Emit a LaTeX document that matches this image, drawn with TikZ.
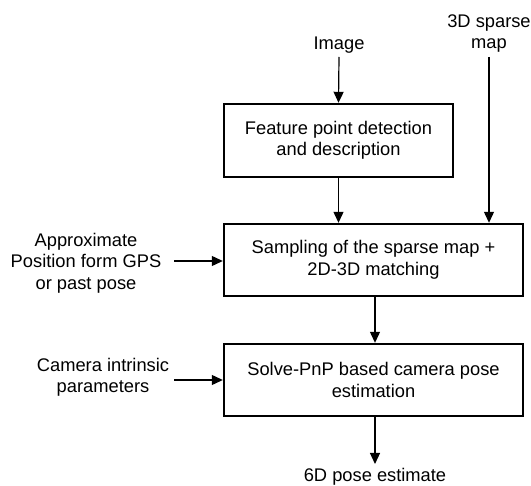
\documentclass[tikz,border=0pt]{standalone}
\usepackage{fontspec}
\setmainfont{Liberation Sans}
\usetikzlibrary{arrows.meta}
\begin{document}
\begin{tikzpicture}[x=1pt,y=-1pt,
  every node/.style={font=\fontsize{18.3}{21.5}\selectfont, align=center},
  procbox/.style={draw, line width=2.4pt, inner sep=0pt},
  lbl/.style={inner sep=2pt},
  arr/.style={line width=1.2pt, -{Triangle[length=11pt,width=10pt]}}]
\useasboundingbox (0,0) rectangle (531,486);
\node[procbox, minimum width=229pt, minimum height=73pt] (b1) at (338.5,140.5) {Feature point detection\\and description};
\node[procbox, minimum width=299pt, minimum height=72pt] (b2) at (373.5,260) {Sampling of the sparse map +\\2D-3D matching};
\node[procbox, minimum width=299pt, minimum height=72pt] (b3) at (373.5,380) {Solve-PnP based camera pose\\estimation};
\node[lbl] (img) at (339,45) {Image};
\node[lbl] (map) at (489,33.5) {3D sparse\\map};
\node[lbl] (apx) at (86,263) {Approximate\\Position form GPS\\or past pose};
\node[lbl] (cam) at (103,377.5) {Camera intrinsic\\parameters};
\node[lbl] (out) at (375,477) {6D pose estimate};
\coordinate (imgtop) at (339,57);
\coordinate (maptop) at (489,57);
\coordinate (apin) at (174,261);
\coordinate (camin) at (174,380);
\coordinate (outend) at (375,464);
\draw[arr] (imgtop) -- (b1.north);
\draw[arr] (b1.south) -- (b1.south |- b2.north);
\draw[arr] (maptop) -- (maptop |- b2.north);
\draw[arr] (apin) -- (apin -| b2.west);
\draw[arr] (b2.south -| outend) -- (b3.north -| outend);
\draw[arr] (camin) -- (camin -| b3.west);
\draw[arr] (b3.south -| outend) -- (outend);
\end{tikzpicture}
\end{document}
